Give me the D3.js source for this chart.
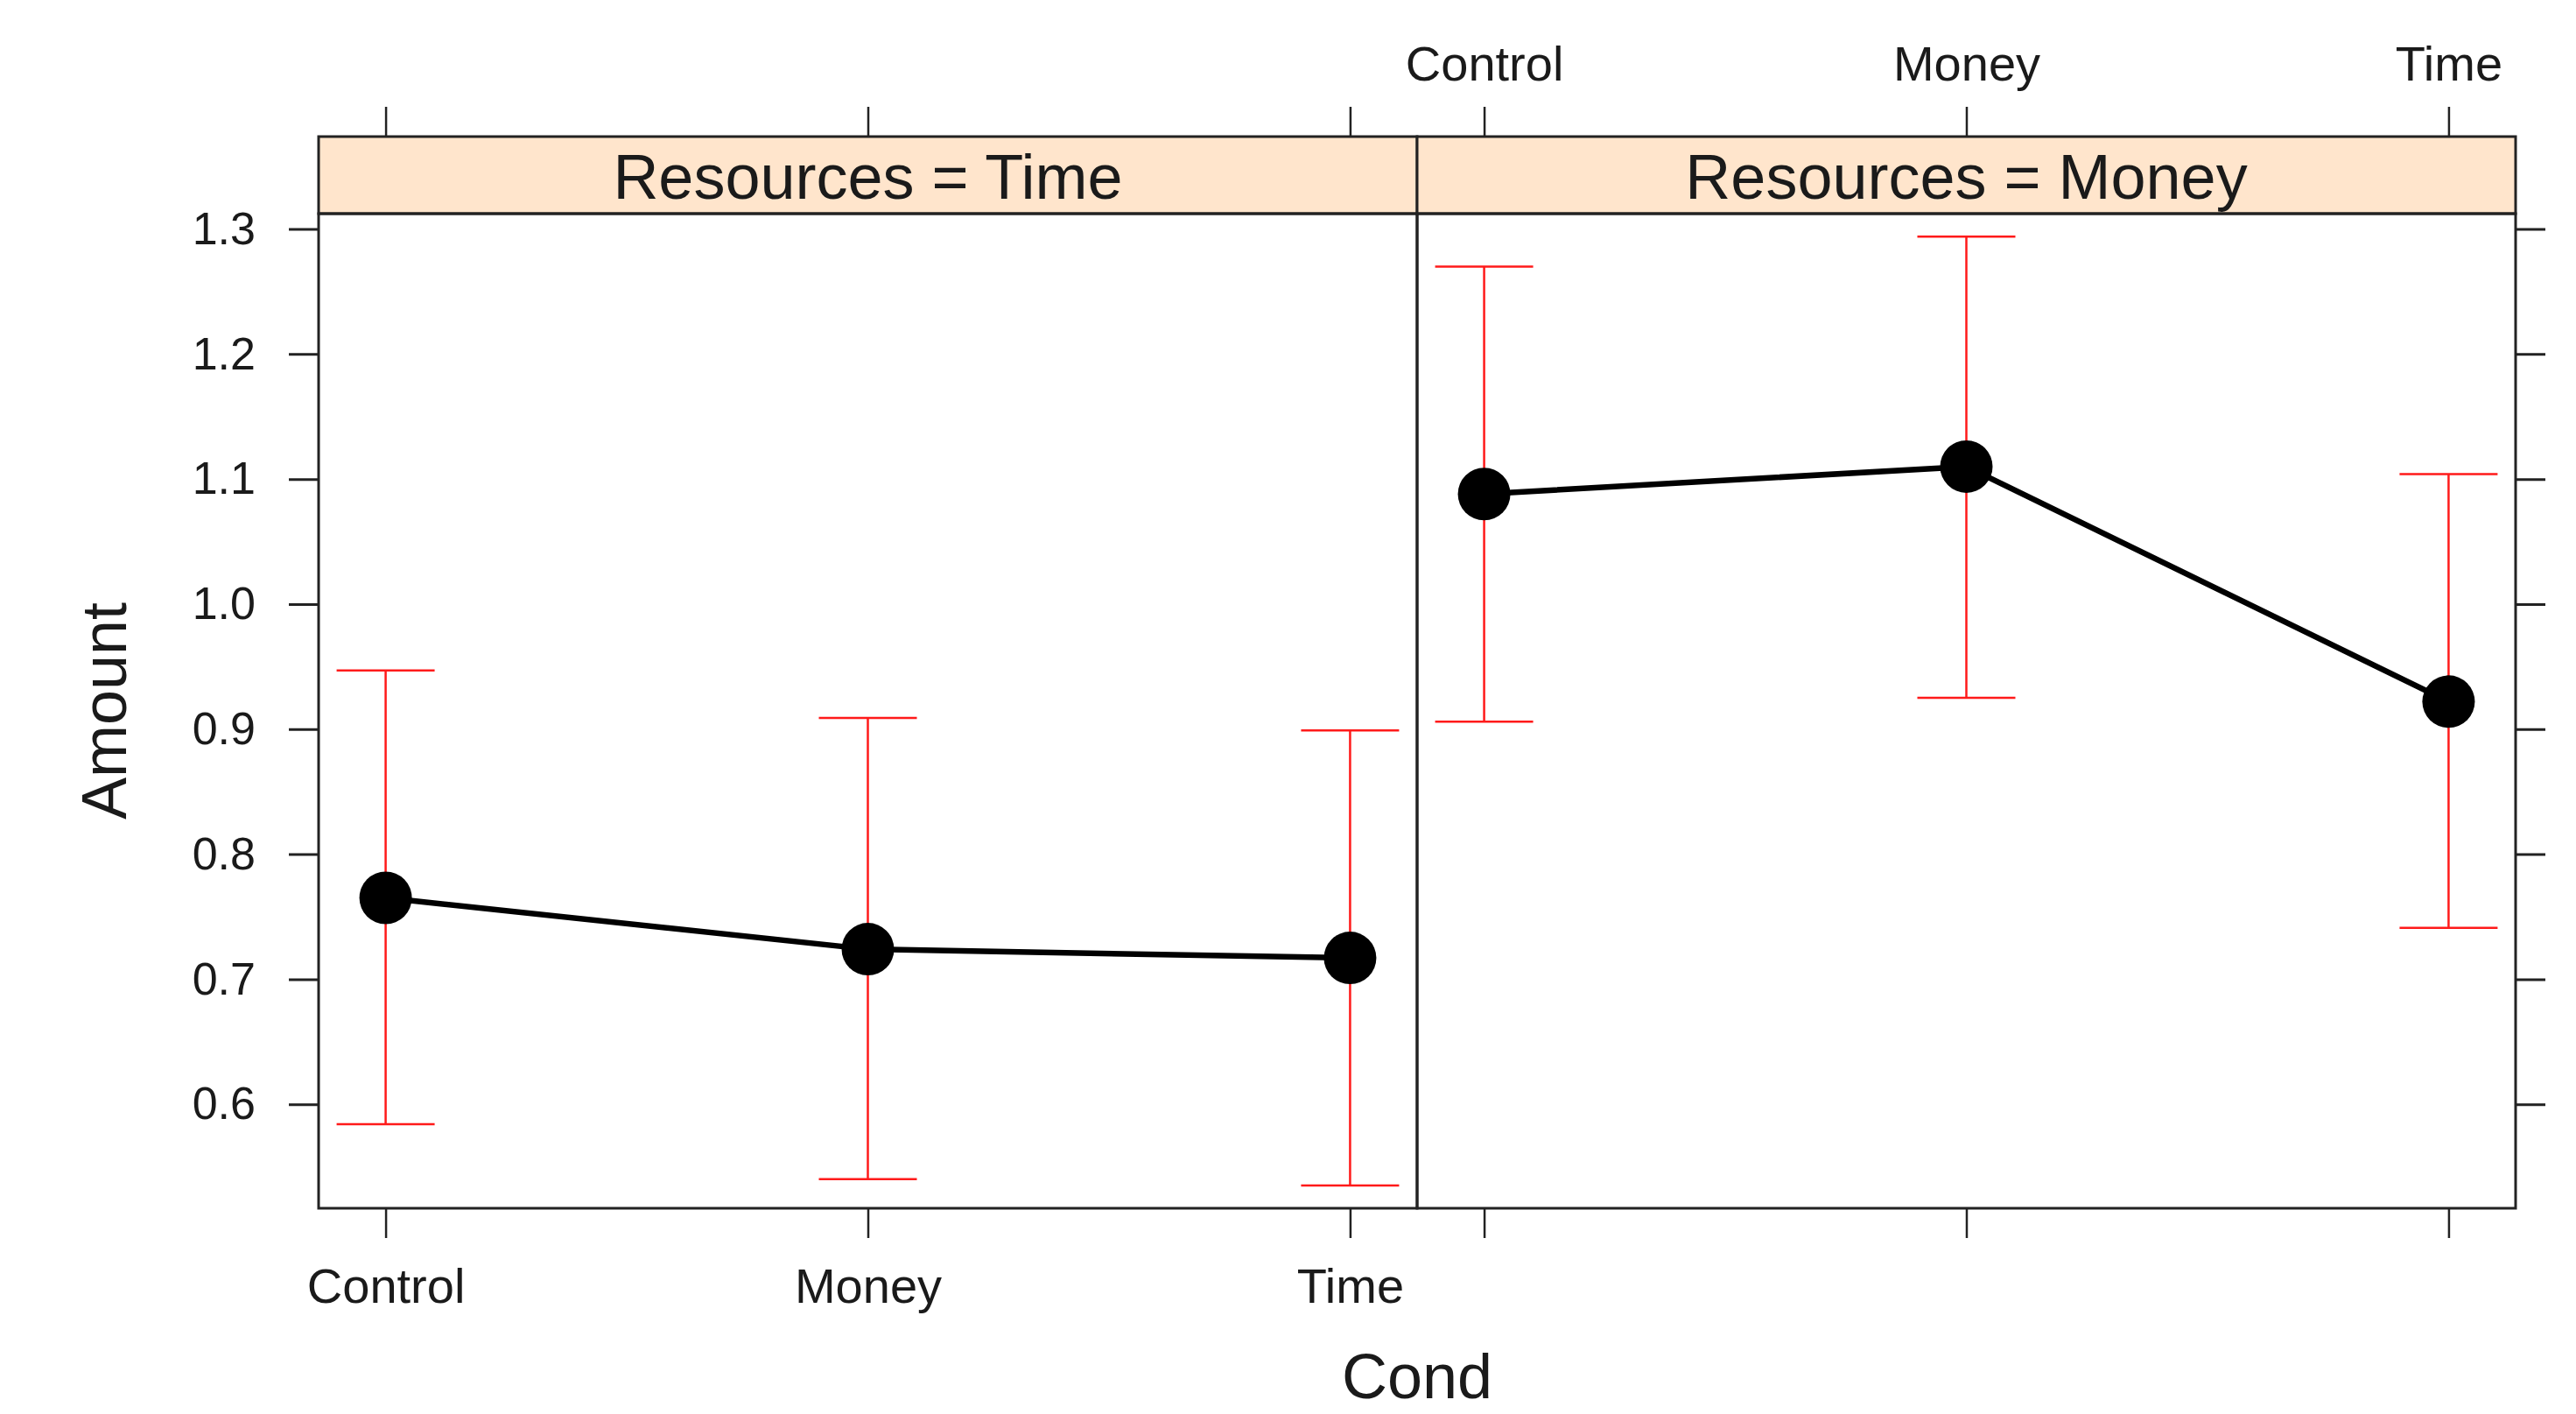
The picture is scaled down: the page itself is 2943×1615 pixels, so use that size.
<!DOCTYPE html>
<html>
<head>
<meta charset="utf-8">
<script src="https://cdn.jsdelivr.net/npm/d3@7"></script>
<style>
  html, body { margin: 0; padding: 0; background: #ffffff; }
  svg { display: block; }
  text { font-family: "Liberation Sans", Arial, Helvetica, sans-serif; fill: #1a1a1a; }
</style>
</head>
<body>
<script>
// Effect of Cond on Amount, split by Resources (fit with confidence interval)
const conditions = ["Control", "Money", "Time"];
const resources = ["Time", "Money"];

const fitTime   = [0.765, 0.724, 0.717];
const lowerTime = [0.584, 0.540, 0.535];
const upperTime = [0.947, 0.909, 0.899];

const fitMoney   = [1.088, 1.110, 0.922];
const lowerMoney = [0.906, 0.925, 0.741];
const upperMoney = [1.270, 1.294, 1.104];

const yTicks = [0.6, 0.7, 0.8, 0.9, 1.0, 1.1, 1.2, 1.3];
const yDomain = [0.5168, 1.3123];

const panelData = [
  { resource: resources[0], fit: fitTime,  lower: lowerTime,  upper: upperTime },
  { resource: resources[1], fit: fitMoney, lower: lowerMoney, upper: upperMoney }
];

const W = 2943, H = 1615;
const left = 364, right = 2874, stripTop = 156, plotTop = 244, plotBottom = 1380;
const panelW = (right - left) / panelData.length;

const svg = d3.select("body").append("svg").attr("width", W).attr("height", H);
svg.append("rect").attr("width", W).attr("height", H).attr("fill", "#ffffff");

const y = d3.scaleLinear().domain(yDomain).range([plotBottom, plotTop]);

const frameColor = "#222";
const tickLen = 34;

panelData.forEach((p, i) => {
  const x0 = left + i * panelW, x1 = x0 + panelW;
  const x = d3.scalePoint().domain(conditions).range([x0, x1]).padding(0.139);
  const g = svg.append("g");

  // strip
  g.append("rect").attr("x", x0).attr("y", stripTop).attr("width", panelW).attr("height", plotTop - stripTop)
    .attr("fill", "#ffe5cc").attr("stroke", frameColor).attr("stroke-width", 3);
  g.append("text").attr("x", (x0 + x1) / 2).attr("y", 227).attr("text-anchor", "middle")
    .attr("font-size", 72).text("Resources = " + p.resource);

  // panel frame
  g.append("rect").attr("x", x0).attr("y", plotTop).attr("width", panelW).attr("height", plotBottom - plotTop)
    .attr("fill", "none").attr("stroke", frameColor).attr("stroke-width", 3);

  // x axes: labels at bottom for the first panel, at top for the second
  const bottomAxis = d3.axisBottom(x).tickSize(tickLen).tickPadding(34);
  const topAxis = d3.axisTop(x).tickSize(tickLen).tickPadding(30);
  const gb = g.append("g").attr("transform", `translate(0,${plotBottom})`).call(bottomAxis);
  const gt = g.append("g").attr("transform", `translate(0,${stripTop})`).call(topAxis);
  [gb, gt].forEach(a => {
    a.select(".domain").remove();
    a.selectAll(".tick line").attr("stroke", frameColor).attr("stroke-width", 2.5);
    a.selectAll(".tick text").attr("font-size", 56).attr("fill", "#1a1a1a")
      .attr("font-family", "'Liberation Sans', Arial, sans-serif");
  });
  if (i === 0) gt.selectAll(".tick text").remove();
  else gb.selectAll(".tick text").remove();

  // error bars
  const eb = g.append("g").attr("stroke", "#ff1a1a").attr("stroke-width", 2.5).attr("fill", "none");
  conditions.forEach((c, k) => {
    const cx = x(c);
    eb.append("line").attr("x1", cx).attr("x2", cx).attr("y1", y(p.lower[k])).attr("y2", y(p.upper[k]));
    eb.append("line").attr("x1", cx - 56).attr("x2", cx + 56).attr("y1", y(p.upper[k])).attr("y2", y(p.upper[k]));
    eb.append("line").attr("x1", cx - 56).attr("x2", cx + 56).attr("y1", y(p.lower[k])).attr("y2", y(p.lower[k]));
  });

  // fitted line and points
  const line = d3.line().x((d, k) => x(conditions[k])).y(d => y(d));
  g.append("path").datum(p.fit).attr("d", line).attr("fill", "none")
    .attr("stroke", "#000").attr("stroke-width", 6.5).attr("stroke-linejoin", "round");
  g.selectAll("circle.pt").data(p.fit).enter().append("circle").attr("class", "pt")
    .attr("cx", (d, k) => x(conditions[k])).attr("cy", d => y(d)).attr("r", 30).attr("fill", "#000");
});

// y axes: labelled on the left, ticks only on the right
const leftAxis = d3.axisLeft(y).tickValues(yTicks).tickFormat(d3.format(".1f")).tickSize(tickLen).tickPadding(38);
const rightAxis = d3.axisRight(y).tickValues(yTicks).tickSize(tickLen).tickFormat("");
const gl = svg.append("g").attr("transform", `translate(${left},0)`).call(leftAxis);
const gr = svg.append("g").attr("transform", `translate(${right},0)`).call(rightAxis);
[gl, gr].forEach(a => {
  a.select(".domain").remove();
  a.selectAll(".tick line").attr("stroke", frameColor).attr("stroke-width", 3);
});
gl.selectAll(".tick text").attr("font-size", 52).attr("fill", "#1a1a1a")
  .attr("font-family", "'Liberation Sans', Arial, sans-serif");

// axis titles
svg.append("text").attr("transform", `translate(144,${(plotTop + plotBottom) / 2}) rotate(-90)`)
  .attr("text-anchor", "middle").attr("font-size", 72).text("Amount");
svg.append("text").attr("x", (left + right) / 2).attr("y", 1597)
  .attr("text-anchor", "middle").attr("font-size", 72).text("Cond");
</script>
</body>
</html>
